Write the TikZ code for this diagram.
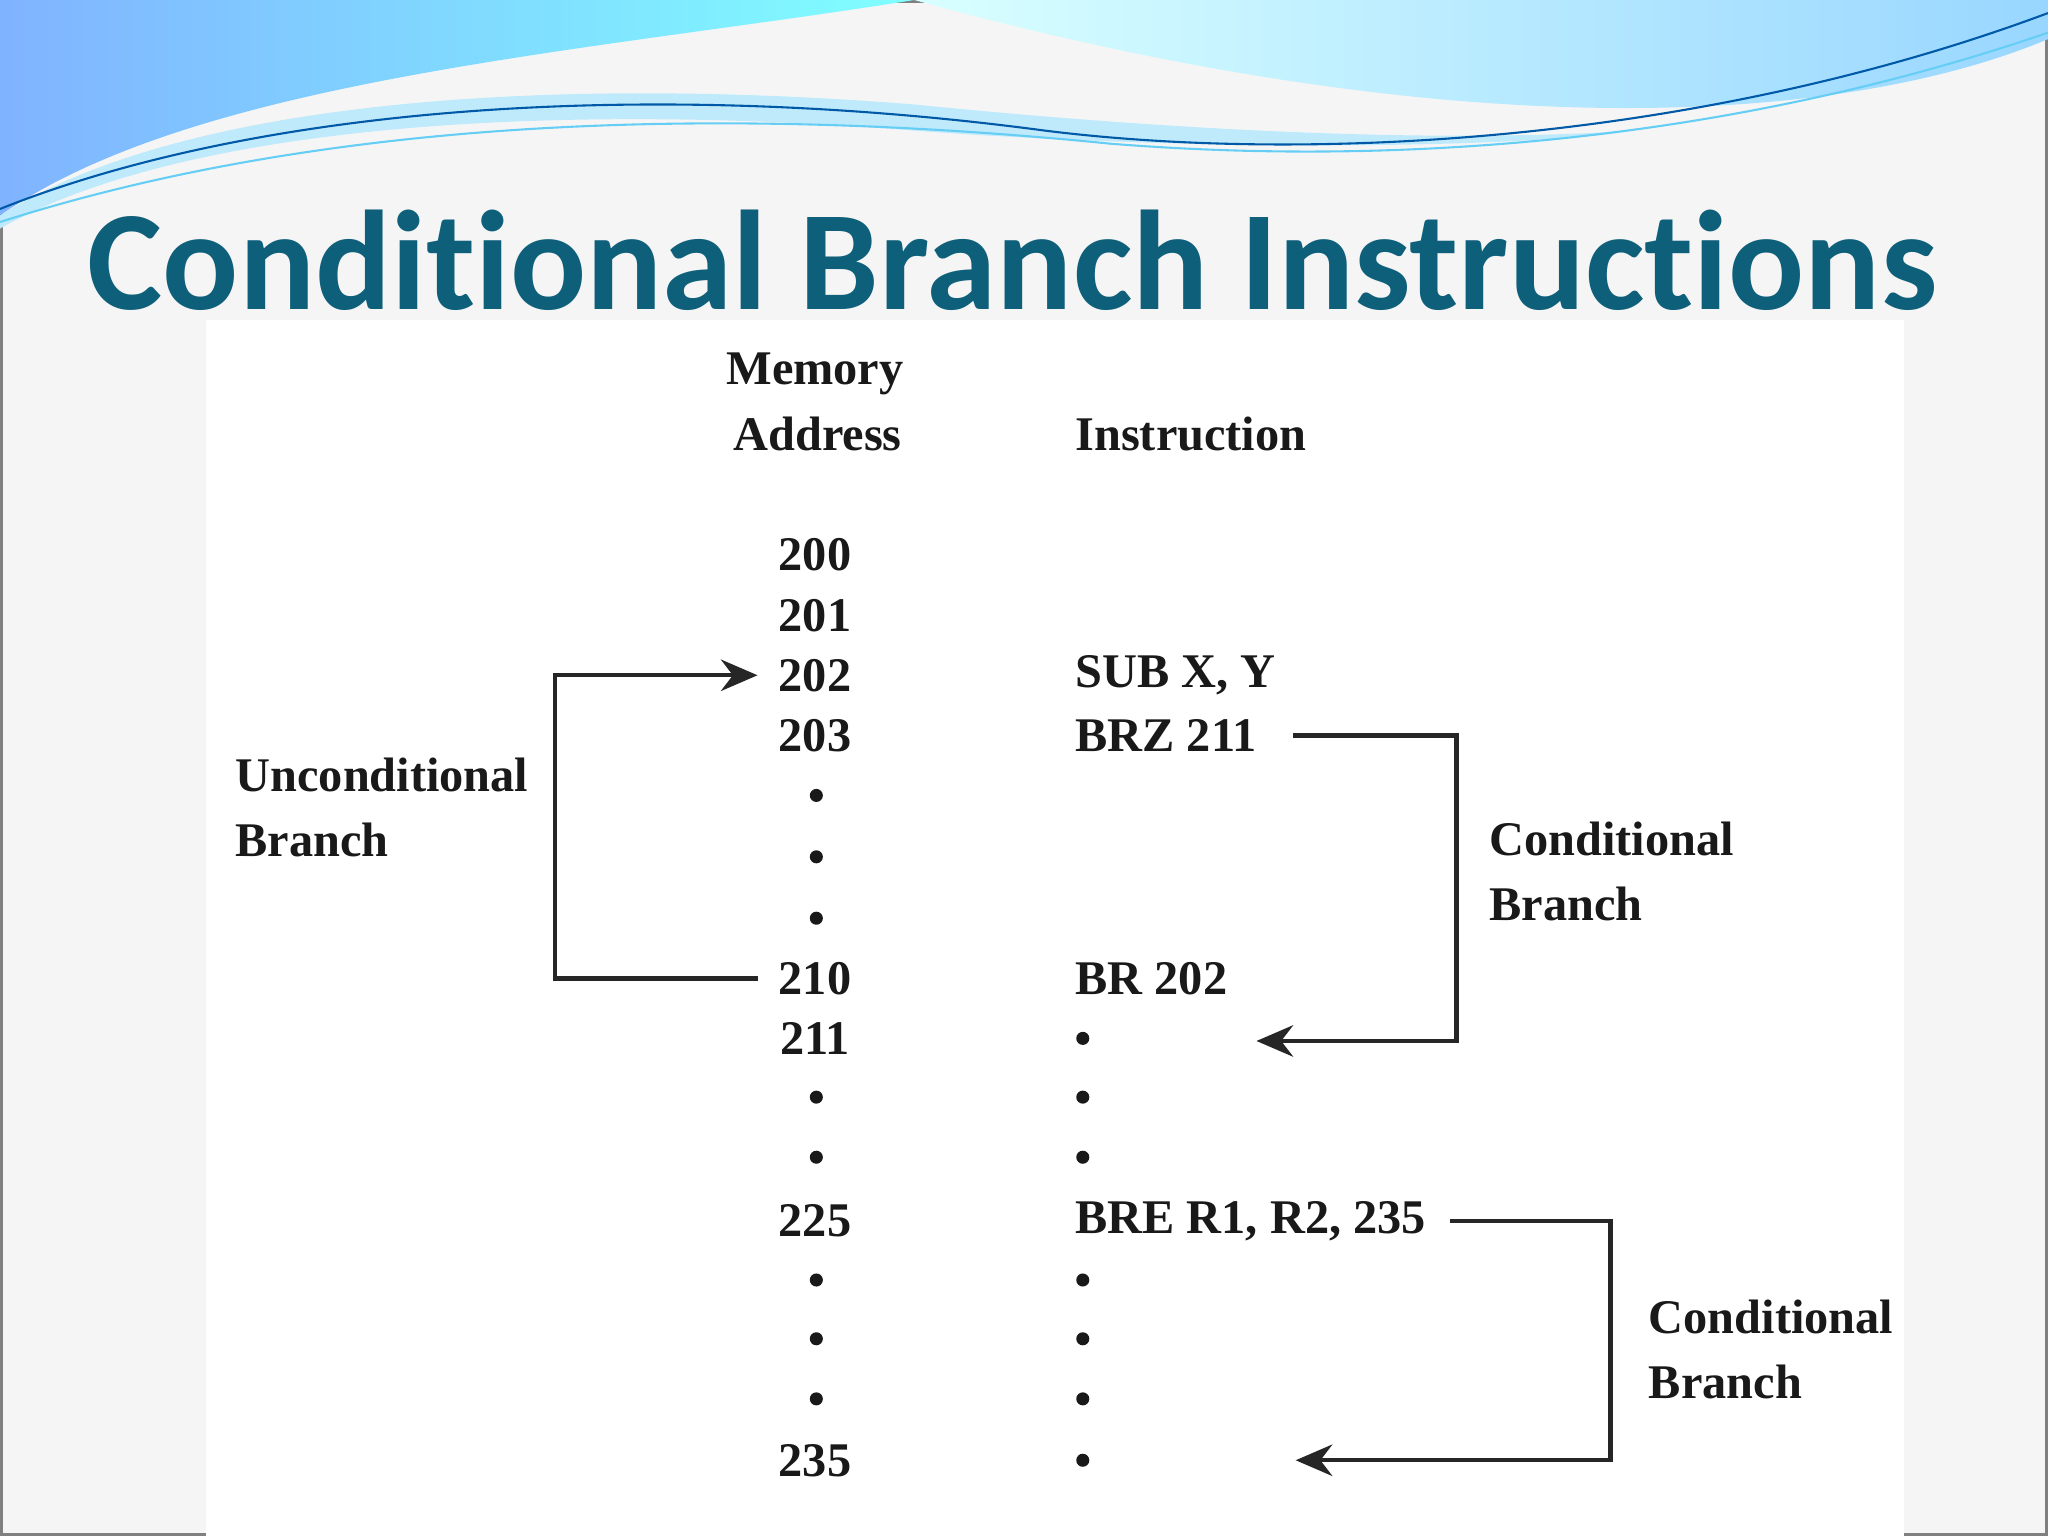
\documentclass[tikz,border=0pt]{standalone}
\usepackage{fontspec}
\setmainfont{Liberation Serif}
\newfontfamily\titlefont[RawFeature=-liga]{Carlito}
\usetikzlibrary{arrows.meta}
\definecolor{titleblue}{HTML}{0E5F7A}
\begin{document}
\begin{tikzpicture}[x=0.5pt,y=-0.5pt,
  lbl/.style={font=\bfseries\fontsize{18.5}{23}\selectfont, inner sep=0pt, text=black!90},
  addr/.style={lbl, anchor=center},
  ins/.style={lbl, anchor=west},
  dt/.style={circle, fill=black!90, inner sep=0pt, minimum size=5pt},
  conn/.style={line width=1.7pt, black!85},
  tip/.style={-{Stealth[length=14pt,width=12pt]}}]
\useasboundingbox (0,0) rectangle (1568,1176);
\fill[black!4] (0,0) rectangle (1568,1176);
\draw[black!50, line width=1pt] (1,1) rectangle (1567,1175);
\fill[white] (158,245) rectangle (1458,1176);
% banner
\shade[left color=cyan!40!blue!50, right color=cyan!50] (0,0) -- (700,0) .. controls (450,40) and (150,60) .. (0,165) -- cycle;
\shade[left color=cyan!15, right color=cyan!60!blue!40] (700,0) -- (1568,0) -- (1568,30) .. controls (1400,100) and (1100,110) .. (700,0) -- cycle;
\fill[cyan!25] (0,165) .. controls (150,70) and (450,60) .. (700,80) .. controls (900,100) and (1100,110) .. (1250,100) .. controls (1150,115) and (900,115) .. (700,100) .. controls (450,80) and (150,90) .. (0,175) -- cycle;
\draw[teal!70!blue, line width=0.8pt] (0,160) .. controls (200,80) and (500,60) .. (800,100) .. controls (1000,125) and (1300,110) .. (1568,10);
\draw[cyan!60, line width=0.8pt] (0,170) .. controls (250,90) and (550,80) .. (850,110) .. controls (1100,130) and (1350,100) .. (1568,25);
% title
\node[font=\titlefont\bfseries\fontsize{54.3}{60}\selectfont, text=titleblue, inner sep=0pt] (title) at (775,199) {Conditional Branch Instructions};
% headers
\node[addr] (hmem) at (624,286) {Memory};
\node[addr] (hadd) at (626,332) {Address};
\node[ins] (hins) at (823,332) {Instruction};
% addresses
\foreach \n/\t/\y in {a200/200/425,a201/201/471,a202/202/517,a203/203/563,a210/210/749,a211/211/795,a225/225/935,a235/235/1118}
  \node[addr] (\n) at (624,\y) {\t};
\foreach \n/\y in {d1/609,d2/656,d3/703,d4/840,d5/886,d6/980,d7/1025,d8/1071}
  \node[dt] (\n) at (625,\y) {};
% instructions
\node[ins] (sub) at (823,517) {SUB X, Y};
\node[ins] (brz) at (823,563) {BRZ 211};
\node[ins] (br) at (823,749) {BR 202};
\node[ins] (bre) at (823,935) {BRE R1, R2, 235};
\foreach \n/\y in {i211/795,e1/840,e2/886,e3/980,e4/1025,e5/1071,i235/1118}
  \node[dt] (\n) at (829,\y) {};
% labels
\node[lbl, anchor=north west, align=left] (ul) at (180,580) {Unconditional\\[2pt]Branch};
\node[lbl, anchor=north west, align=left] (cl1) at (1140,629) {Conditional\\[2pt]Branch};
\node[lbl, anchor=north west, align=left] (cl2) at (1262,995) {Conditional\\[2pt]Branch};
% connectors
\coordinate (u1) at (580,749); \coordinate (u2) at (580,517);
\draw[conn, tip] (u1) -- (425,749) -- (425,517) -- (u2);
\coordinate (c1s) at (990,563); \coordinate (c1e) at (962,797);
\draw[conn, tip] (c1s) -- (1115,563) -- (1115,797) -- (c1e);
\coordinate (c2s) at (1110,935); \coordinate (c2e) at (992,1118);
\draw[conn, tip] (c2s) -- (1233,935) -- (1233,1118) -- (c2e);
\end{tikzpicture}
\end{document}
